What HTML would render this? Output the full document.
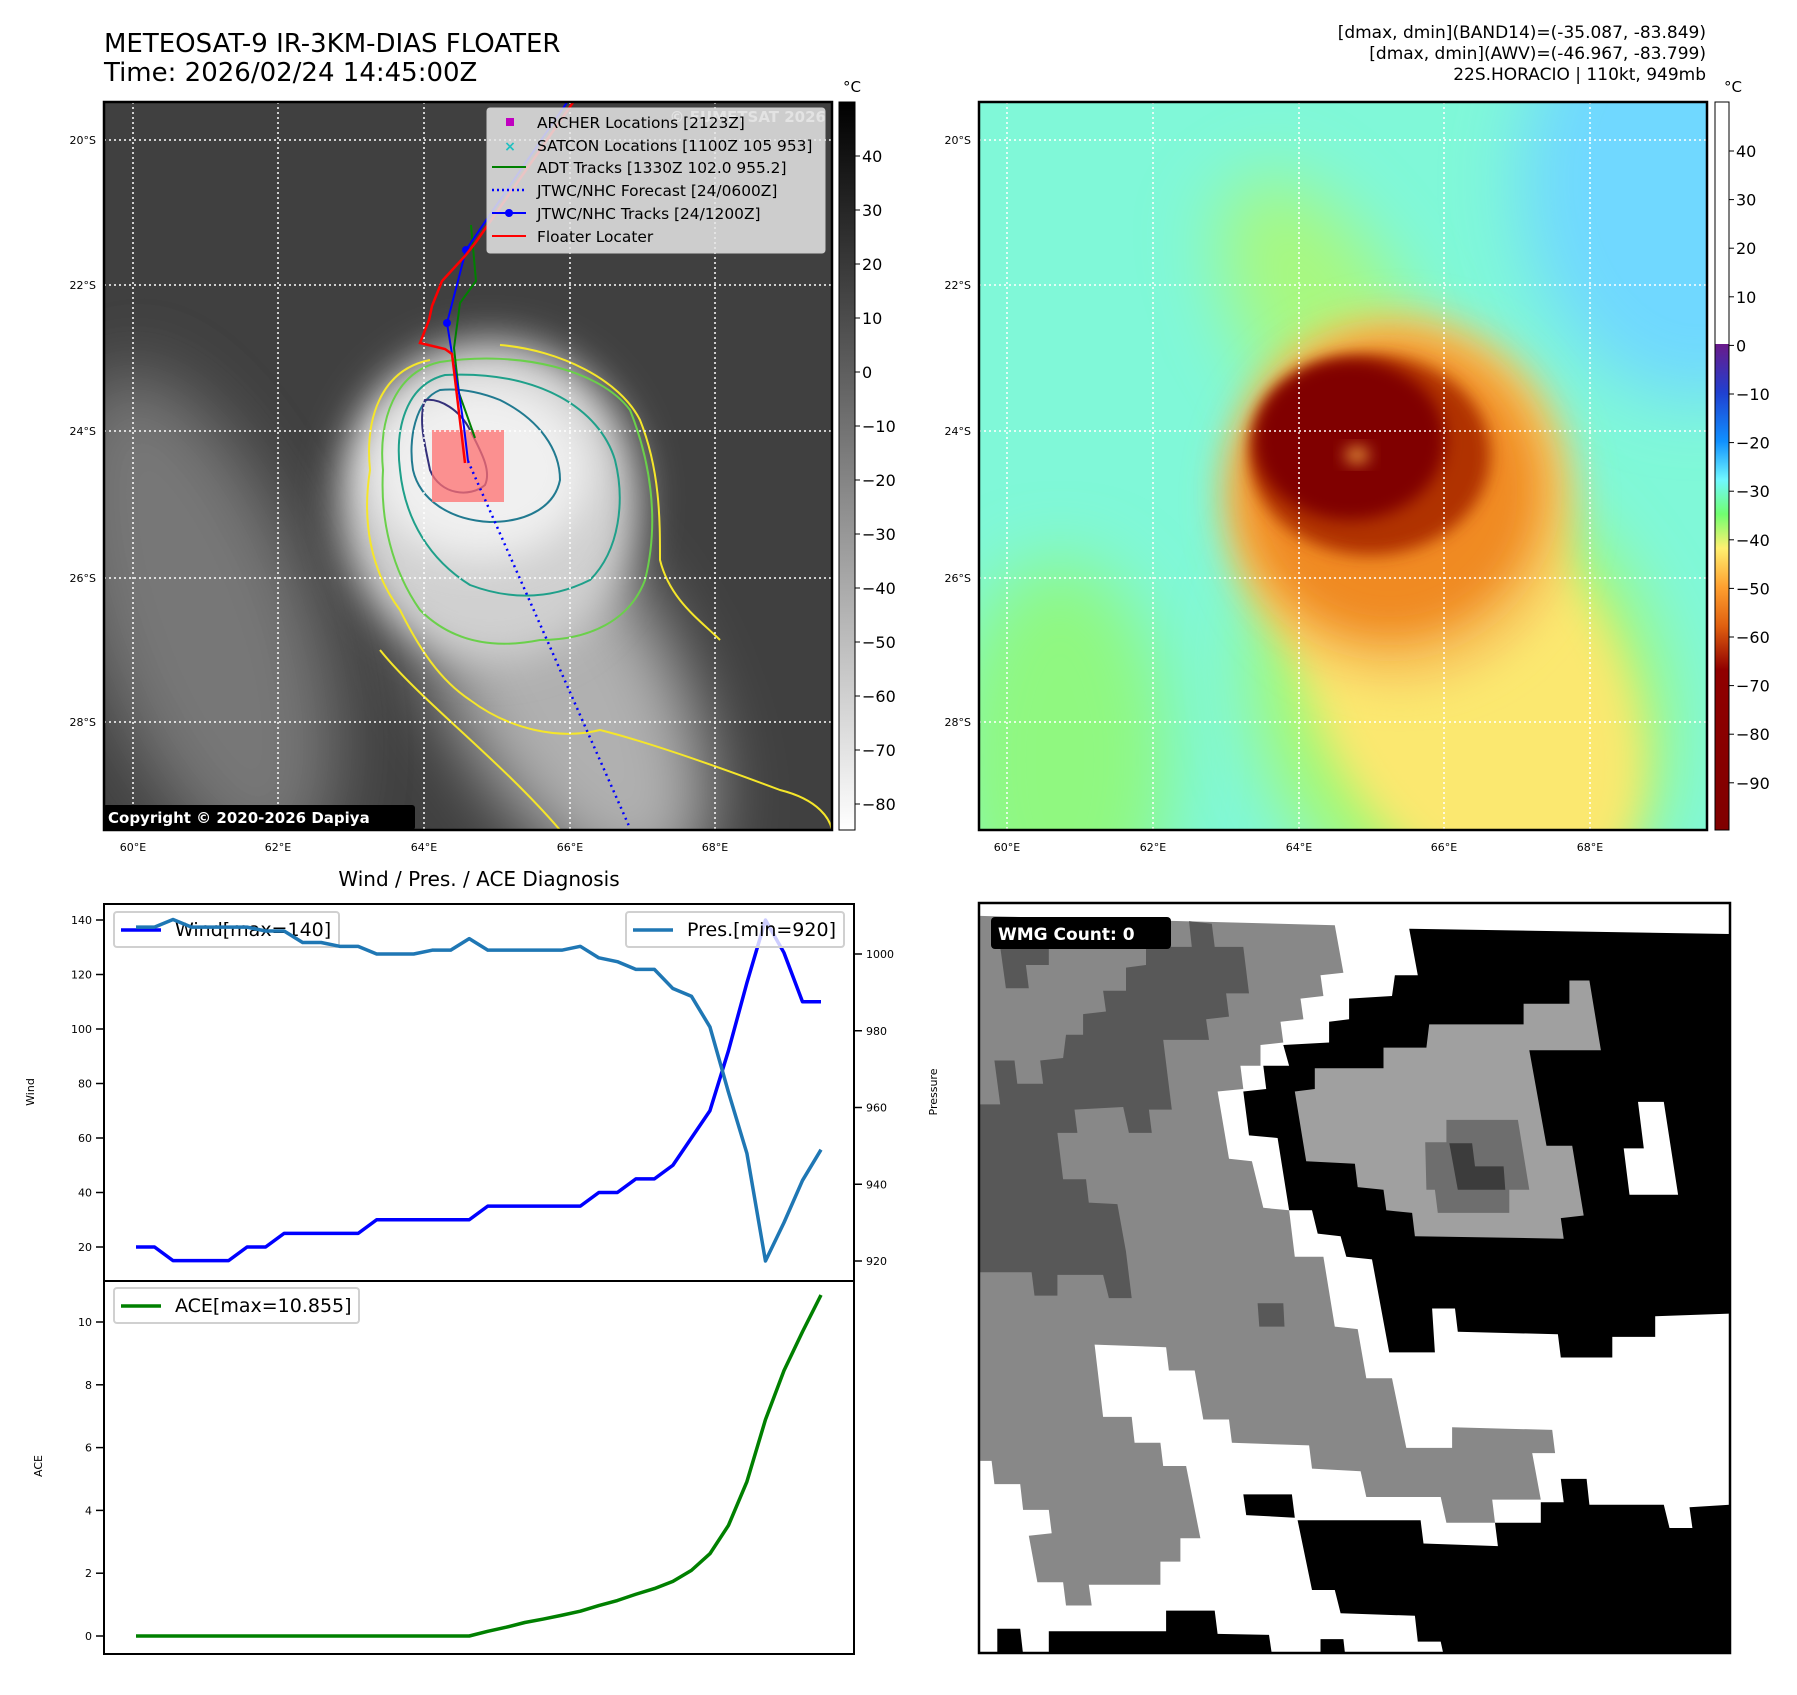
<!DOCTYPE html>
<html><head><meta charset="utf-8">
<style>
html,body{margin:0;padding:0;background:#fff;}
svg text{font-family:"DejaVu Sans","Liberation Sans",sans-serif;}
</style></head>
<body>
<svg id="root" xmlns="http://www.w3.org/2000/svg" width="1797" height="1690" viewBox="0 0 1797 1690">
<defs>
  <filter id="blur20" x="-50%" y="-50%" width="200%" height="200%"><feGaussianBlur stdDeviation="20"/></filter>
  <filter id="blur8" x="-50%" y="-50%" width="200%" height="200%"><feGaussianBlur stdDeviation="8"/></filter>
  <filter id="blur35" x="-50%" y="-50%" width="200%" height="200%"><feGaussianBlur stdDeviation="35"/></filter>
  <clipPath id="clipL"><rect x="104" y="102" width="728" height="728"/></clipPath>
  <clipPath id="clipR"><rect x="979" y="102" width="728" height="728"/></clipPath>
  <clipPath id="clipW"><rect x="979" y="903" width="751" height="750"/></clipPath>
  <linearGradient id="cbGray" x1="0" y1="0" x2="0" y2="1"><stop offset="0" stop-color="#000"/><stop offset="1" stop-color="#fff"/></linearGradient>
  <linearGradient id="cbColor" x1="0" y1="0" x2="0" y2="1">
    <stop offset="0" stop-color="#6a1a8a"/><stop offset="0.1" stop-color="#2040d0"/><stop offset="0.2" stop-color="#1090ff"/>
    <stop offset="0.28" stop-color="#70f8ff"/><stop offset="0.35" stop-color="#70ff70"/><stop offset="0.42" stop-color="#fff070"/>
    <stop offset="0.5" stop-color="#ffa030"/><stop offset="0.58" stop-color="#e06010"/><stop offset="0.67" stop-color="#900000"/><stop offset="1" stop-color="#800000"/>
  </linearGradient>
</defs>

<!-- Titles -->
<text x="104" y="52" font-size="26">METEOSAT-9 IR-3KM-DIAS FLOATER</text>
<text x="104" y="81" font-size="26">Time: 2026/02/24 14:45:00Z</text>
<g font-size="17" text-anchor="end">
  <text x="1706" y="38">[dmax, dmin](BAND14)=(-35.087, -83.849)</text>
  <text x="1706" y="59">[dmax, dmin](AWV)=(-46.967, -83.799)</text>
  <text x="1706" y="80">22S.HORACIO | 110kt, 949mb</text>
</g>

<!-- Left IR map -->
<g clip-path="url(#clipL)">
  <rect x="104" y="102" width="728" height="728" fill="#404040"/>
  <ellipse cx="200" cy="620" rx="110" ry="260" fill="#777" filter="url(#blur35)" transform="rotate(-20 200 620)"/>
  <ellipse cx="560" cy="680" rx="110" ry="230" fill="#b0b0b0" filter="url(#blur35)" transform="rotate(-30 560 680)"/>
  <ellipse cx="490" cy="500" rx="150" ry="160" fill="#d0d0d0" filter="url(#blur20)"/>
  <ellipse cx="480" cy="470" rx="110" ry="90" fill="#f0f0f0" filter="url(#blur20)"/>
  <!-- contours -->
  <path fill="none" stroke="#f5e62a" stroke-width="2" d="M430,360 C380,370 365,420 370,470 C362,520 370,570 400,610 C420,650 440,680 470,700 C510,730 560,740 600,730 C640,740 700,760 780,790 C820,800 830,820 832,830 M500,345 C560,350 620,380 640,420 C660,470 660,520 660,560 C670,600 700,620 720,640 M380,650 C420,700 500,760 560,830"/>
  <path fill="none" stroke="#6ad04a" stroke-width="2" d="M440,362 C395,372 378,420 383,470 C380,520 392,570 420,610 C450,640 490,650 540,640 C590,640 630,620 645,580 C660,520 650,460 630,410 C600,370 520,350 440,362 Z"/>
  <path fill="none" stroke="#1fa08a" stroke-width="2" d="M445,375 C405,385 395,430 400,470 C405,520 430,560 470,585 C510,600 550,600 590,580 C620,550 625,500 615,460 C600,410 540,370 445,375 Z"/>
  <path fill="none" stroke="#217a90" stroke-width="2" d="M440,390 C415,400 408,440 413,470 C420,500 450,520 490,522 C530,522 555,505 560,480 C560,450 540,420 500,400 C480,392 460,388 440,390 Z"/>
  <path fill="none" stroke="#34307a" stroke-width="2" d="M425,400 C418,420 425,445 430,470 C440,495 470,498 485,485 C492,470 480,450 470,430 C460,410 440,398 425,400 Z"/>
  <rect x="432" y="430" width="72" height="72" fill="#ff7070" fill-opacity="0.75"/>
  <g stroke="#fff" stroke-width="1.5" stroke-dasharray="2,3">
    <line x1="133" y1="102" x2="133" y2="830"/><line x1="278" y1="102" x2="278" y2="830"/><line x1="424" y1="102" x2="424" y2="830"/><line x1="570" y1="102" x2="570" y2="830"/><line x1="715" y1="102" x2="715" y2="830"/>
    <line x1="104" y1="140" x2="832" y2="140"/><line x1="104" y1="285" x2="832" y2="285"/><line x1="104" y1="431" x2="832" y2="431"/><line x1="104" y1="578" x2="832" y2="578"/><line x1="104" y1="722" x2="832" y2="722"/>
  </g>
  <polyline fill="none" stroke="#0000ff" stroke-width="2.5" stroke-dasharray="2,4" points="468,461 629,826"/>
  <polyline fill="none" stroke="#008000" stroke-width="2" points="471,225 476,281 460,303 454,348 459,393 475,438"/>
  <polyline fill="none" stroke="#0000ff" stroke-width="2" points="568,101 487,219 466,250 447,323 453,360 459,393 464,427 468,461"/>
  <circle cx="466" cy="250" r="4" fill="#0000ff"/>
  <circle cx="447" cy="323" r="4" fill="#0000ff"/>
  <polyline fill="none" stroke="#ff0000" stroke-width="2.5" points="574,101 476,242 465,256 442,281 432,306 429,320 420,343 445,349 452,354 465,463"/>
</g>
<rect x="104" y="102" width="728" height="728" fill="none" stroke="#000" stroke-width="2.5"/>
<g>
  <rect x="103" y="805" width="312" height="25" rx="3" fill="#000"/>
  <text x="108" y="823" font-size="15" font-weight="bold" fill="#fff">Copyright © 2020-2026 Dapiya</text>
</g>
<text x="826" y="122" font-size="15" font-weight="bold" fill="#ccc" text-anchor="end">© EUMETSAT 2026</text>
<g>
  <rect x="487" y="108" width="338" height="145" rx="3" fill="#e6e6e6" fill-opacity="0.85" stroke="#ccc"/>
  <rect x="506" y="118" width="8" height="8" fill="#c000c0"/>
  <text x="510" y="151" font-size="14" fill="#20c0c0" text-anchor="middle" font-weight="bold">×</text>
  <line x1="492" y1="167" x2="526" y2="167" stroke="#008000" stroke-width="2"/>
  <line x1="492" y1="190" x2="526" y2="190" stroke="#0000ff" stroke-width="2.5" stroke-dasharray="2,3"/>
  <line x1="492" y1="213" x2="526" y2="213" stroke="#0000ff" stroke-width="2"/><circle cx="509" cy="213" r="4" fill="#0000ff"/>
  <line x1="492" y1="236" x2="526" y2="236" stroke="#ff0000" stroke-width="2"/>
  <g font-size="15.4" fill="#000">
    <text x="537" y="128">ARCHER Locations [2123Z]</text>
    <text x="537" y="151">SATCON Locations [1100Z 105 953]</text>
    <text x="537" y="173">ADT Tracks [1330Z 102.0 955.2]</text>
    <text x="537" y="196">JTWC/NHC Forecast [24/0600Z]</text>
    <text x="537" y="219">JTWC/NHC Tracks [24/1200Z]</text>
    <text x="537" y="242">Floater Locater</text>
  </g>
</g>
<g font-size="11" text-anchor="end">
  <text x="96" y="144">20°S</text><text x="96" y="289">22°S</text><text x="96" y="435">24°S</text><text x="96" y="582">26°S</text><text x="96" y="726">28°S</text>
</g>
<g font-size="11" text-anchor="middle">
  <text x="133" y="851">60°E</text><text x="278" y="851">62°E</text><text x="424" y="851">64°E</text><text x="570" y="851">66°E</text><text x="715" y="851">68°E</text>
</g>
<g>
  <rect x="839" y="102" width="16" height="728" fill="url(#cbGray)" stroke="#000" stroke-width="1"/>
  <text x="852" y="92" font-size="15" text-anchor="middle">°C</text>
  <g id="cbLticks" font-size="16"></g>
</g>

<!-- Right AWV map -->
<g clip-path="url(#clipR)">
  <rect x="979" y="102" width="728" height="728" fill="#80f8d8"/>
  <ellipse cx="1700" cy="180" rx="180" ry="220" fill="#70d8ff" filter="url(#blur35)"/>
  <ellipse cx="1060" cy="760" rx="110" ry="200" fill="#90f880" filter="url(#blur35)"/>
  <ellipse cx="1460" cy="700" rx="200" ry="240" fill="#a8f870" filter="url(#blur35)" transform="rotate(-25 1460 700)"/>
  <ellipse cx="1330" cy="330" rx="80" ry="170" fill="#a8f880" filter="url(#blur35)" transform="rotate(-30 1330 330)"/>
  <ellipse cx="1470" cy="690" rx="150" ry="230" fill="#fbe870" filter="url(#blur20)" transform="rotate(-30 1470 690)"/>
  <ellipse cx="1400" cy="500" rx="175" ry="185" fill="#f8c860" filter="url(#blur20)"/>
  <ellipse cx="1390" cy="490" rx="150" ry="150" fill="#f08a20" filter="url(#blur20)"/>
  <ellipse cx="1370" cy="455" rx="120" ry="100" fill="#b03000" filter="url(#blur8)"/>
  <ellipse cx="1350" cy="440" rx="95" ry="80" fill="#800000" filter="url(#blur8)"/>
  <ellipse cx="1357" cy="455" rx="12" ry="8" fill="#f0a040" filter="url(#blur8)"/>
  <g stroke="#fff" stroke-width="1.5" stroke-dasharray="2,3">
    <line x1="1007" y1="102" x2="1007" y2="830"/><line x1="1153" y1="102" x2="1153" y2="830"/><line x1="1299" y1="102" x2="1299" y2="830"/><line x1="1444" y1="102" x2="1444" y2="830"/><line x1="1590" y1="102" x2="1590" y2="830"/>
    <line x1="979" y1="140" x2="1707" y2="140"/><line x1="979" y1="285" x2="1707" y2="285"/><line x1="979" y1="431" x2="1707" y2="431"/><line x1="979" y1="578" x2="1707" y2="578"/><line x1="979" y1="722" x2="1707" y2="722"/>
  </g>
</g>
<rect x="979" y="102" width="728" height="728" fill="none" stroke="#000" stroke-width="2.5"/>
<g font-size="11" text-anchor="end">
  <text x="971" y="144">20°S</text><text x="971" y="289">22°S</text><text x="971" y="435">24°S</text><text x="971" y="582">26°S</text><text x="971" y="726">28°S</text>
</g>
<g font-size="11" text-anchor="middle">
  <text x="1007" y="851">60°E</text><text x="1153" y="851">62°E</text><text x="1299" y="851">64°E</text><text x="1444" y="851">66°E</text><text x="1590" y="851">68°E</text>
</g>
<g>
  <rect x="1715" y="102" width="14" height="242" fill="#fff"/>
  <rect x="1715" y="344" width="14" height="486" fill="url(#cbColor)"/>
  <rect x="1715" y="102" width="14" height="728" fill="none" stroke="#000" stroke-width="1"/>
  <text x="1733" y="92" font-size="15" text-anchor="middle">°C</text>
  <g id="cbRticks" font-size="16"></g>
</g>

<!-- Bottom chart -->
<text x="479" y="886" font-size="20" text-anchor="middle">Wind / Pres. / ACE Diagnosis</text>
<g id="diag"></g>
<rect x="104" y="904" width="750" height="377" fill="none" stroke="#000" stroke-width="2"/>
<rect x="104" y="1281" width="750" height="373" fill="none" stroke="#000" stroke-width="2"/>
<text transform="translate(34,1092) rotate(-90)" font-size="11" text-anchor="middle">Wind</text>
<text transform="translate(937,1092) rotate(-90)" font-size="11" text-anchor="middle">Pressure</text>
<text transform="translate(42,1466) rotate(-90)" font-size="11" text-anchor="middle">ACE</text>

<!-- WMG panel -->
<g clip-path="url(#clipW)">
  <rect x="979" y="903" width="751" height="750" fill="#fff"/>
  <g id="wmg"></g>
</g>
<rect x="979" y="903" width="751" height="750" fill="none" stroke="#000" stroke-width="2.5"/>
<g>
  <rect x="991" y="917" width="180" height="32" rx="4" fill="#000"/>
  <text x="998" y="940" font-size="17" font-weight="bold" fill="#fff">WMG Count: 0</text>
</g>
</svg>
<script>
const NS="http://www.w3.org/2000/svg";
// ---- chart data ----
const windSeries=[20,20,15,15,15,15,20,20,25,25,25,25,25,30,30,30,30,30,30,35,35,35,35,35,35,40,40,45,45,50,60,70,92,117,140,128,110,110];
const presValues=[1007,1007,1009,1007,1007,1007,1007,1006,1006,1003,1003,1002,1002,1000,1000,1000,1001,1001,1004,1001,1001,1001,1001,1001,1002,999,998,996,996,991,989,981,964,948,920,930,941,949];
const aceValues=[0,0,0,0,0,0,0,0,0,0,0,0,0,0,0,0,0,0,0,0.15,0.28,0.43,0.54,0.66,0.79,0.97,1.13,1.33,1.51,1.74,2.09,2.62,3.52,4.92,6.89,8.45,9.69,10.86];
const windTicks=[20,40,60,80,100,120,140];
const presTicks=[920,940,960,980,1000];
const aceTicks=[0,2,4,6,8,10];
const cbLeftTicks=[40,30,20,10,0,-10,-20,-30,-40,-50,-60,-70,-80];
const cbRightTicks=[40,30,20,10,0,-10,-20,-30,-40,-50,-60,-70,-80,-90];

const N=presValues.length;
const xScale=i=>136+(i*(821-136)/(N-1));
const yWind=v=>1247-(v-20)*2.725;
const yPres=p=>1261-(p-920)*3.8375;
const yAce=a=>1636-a*31.4;
const cbL=v=>156+(40-v)*5.4;
const cbR=v=>151+(40-v)*4.86;

const diag=document.getElementById('diag');
function mk(tag,attrs,parent){const e=document.createElementNS(NS,tag);for(const k in attrs)e.setAttribute(k,attrs[k]);parent.appendChild(e);return e;}

windTicks.forEach(v=>{const y=yWind(v);
  const t=mk('line',{x1:96,x2:104,y1:y,y2:y,stroke:'#000','stroke-width':1.5},diag);
  
  
  const l=mk('text',{x:92,y:y+4,'font-size':11,'text-anchor':'end'},diag);l.textContent=v;
  
  
});
presTicks.forEach(v=>{const y=yPres(v);
  const t=mk('line',{x1:854,x2:862,y1:y,y2:y,stroke:'#000','stroke-width':1.5},diag);
  
  
  const l=mk('text',{x:866,y:y+4,'font-size':11},diag);l.textContent=v;
  
  
});
aceTicks.forEach(v=>{const y=yAce(v);
  const t=mk('line',{x1:96,x2:104,y1:y,y2:y,stroke:'#000','stroke-width':1.5},diag);
  
  
  const l=mk('text',{x:92,y:y+4,'font-size':11,'text-anchor':'end'},diag);l.textContent=v;
  
  
});
function legend(name,x,y,w,color,label){
  const g=mk('g',{},diag);
  
  
  mk('rect',{x:x,y:y,width:w,height:35,rx:3,fill:'#fff','fill-opacity':0.8,stroke:'#d0d0d0','stroke-width':2},g);
  mk('line',{x1:x+7,x2:x+47,y1:y+18,y2:y+18,stroke:color,'stroke-width':3.5},g);
  const t=mk('text',{x:x+61,y:y+24,'font-size':19},g);t.textContent=label;
}
const wl=mk('polyline',{fill:'none',stroke:'#0000ff','stroke-width':3.5,'stroke-linejoin':'round',points:windSeries.map((v,i)=>xScale(i)+','+yWind(v)).join(' ')},diag);


legend('wind-legend',114,912,225,'#0000ff','Wind[max=140]');
const pl=mk('polyline',{fill:'none',stroke:'#1f77b4','stroke-width':3.5,'stroke-linejoin':'round',points:presValues.map((v,i)=>xScale(i)+','+yPres(v)).join(' ')},diag);


legend('pressure-legend',626,912,218,'#1f77b4','Pres.[min=920]');
const al=mk('polyline',{fill:'none',stroke:'#008000','stroke-width':3.5,'stroke-linejoin':'round',points:aceValues.map((v,i)=>xScale(i)+','+yAce(v)).join(' ')},diag);


legend('ace-legend',114,1288,245,'#008000','ACE[max=10.855]');

const gl=document.getElementById('cbLticks');
cbLeftTicks.forEach(v=>{const y=cbL(v);
  mk('line',{x1:855,x2:860,y1:y,y2:y,stroke:'#000'},gl);
  const t=mk('text',{x:862,y:y+6},gl);t.textContent=(v<0?'\u2212'+(-v):v);
  
  
});
const gr=document.getElementById('cbRticks');
cbRightTicks.forEach(v=>{const y=cbR(v);
  mk('line',{x1:1729,x2:1734,y1:y,y2:y,stroke:'#000'},gr);
  const t=mk('text',{x:1736,y:y+6},gr);t.textContent=(v<0?'\u2212'+(-v):v);
  
  
});

const wmgShapes=[
 ['#888888',[[140,70],[760,88],[775,180],[735,185],[740,225],[700,230],[705,270],[665,275],[670,315],[630,320],[630,360],[595,360],[600,405],[555,410],[575,540],[615,545],[635,635],[680,640],[690,730],[740,730],[760,865],[800,870],[815,965],[860,965],[885,1100],[965,1100],[965,1060],[1140,1065],[1145,1110],[1105,1110],[1120,1200],[1035,1200],[1040,1245],[955,1245],[945,1195],[815,1195],[805,1145],[720,1140],[715,1095],[580,1090],[575,1045],[530,1045],[515,950],[470,950],[465,905],[340,900],[355,1040],[405,1040],[410,1090],[455,1090],[460,1135],[500,1135],[525,1275],[490,1275],[490,1320],[455,1320],[455,1365],[330,1365],[335,1405],[290,1405],[285,1360],[240,1360],[225,1270],[265,1265],[260,1220],[215,1220],[210,1170],[165,1170],[160,1125],[140,1125]]],
 ['#585858',[[140,435],[140,760],[230,760],[235,805],[275,805],[275,765],[355,765],[365,810],[405,810],[395,720],[380,628],[330,625],[325,580],[285,580],[275,490],[310,490],[305,445],[390,440],[400,490],[440,490],[435,445],[475,445],[460,310],[540,310],[535,270],[575,265],[570,220],[610,220],[600,130],[550,130],[545,85],[505,80],[510,130],[430,130],[430,165],[395,170],[395,215],[355,215],[360,255],[320,260],[320,300],[290,300],[285,345],[245,350],[250,395],[205,395],[200,350],[165,350],[175,435]]],
 ['#585858',[[175,130],[260,130],[260,165],[220,165],[225,210],[185,210]]],
 ['#585858',[[625,820],[670,820],[672,865],[628,865]]],
 ['#000000',[[890,95],[1450,105],[1450,840],[1320,845],[1320,885],[1245,885],[1245,925],[1155,925],[1150,880],[975,875],[970,830],[930,830],[935,915],[855,915],[825,735],[780,730],[770,690],[730,685],[720,640],[680,640],[660,500],[610,495],[600,410],[640,405],[635,360],[680,360],[670,320],[750,315],[750,275],[785,270],[785,230],[860,225],[865,185],[905,185]]],
 ['#a0a0a0',[[1170,195],[1205,195],[1225,330],[1100,330],[1130,515],[1175,515],[1195,650],[1155,655],[1160,695],[900,690],[895,645],[850,640],[845,600],[800,595],[795,550],[710,545],[690,410],[725,405],[725,365],[845,365],[845,325],[920,325],[925,280],[1090,280],[1090,240],[1170,240]]],
 ['#6e6e6e',[[955,465],[1080,465],[1100,600],[1065,600],[1065,645],[940,645],[935,600],[920,600],[918,508],[955,508]]],
 ['#3c3c3c',[[960,510],[1000,510],[1005,555],[1055,555],[1058,600],[975,600]]],
 ['#ffffff',[[1290,430],[1335,430],[1360,610],[1275,610],[1265,520],[1300,520]]],
 ['#000000',[[695,1240],[910,1240],[915,1285],[1045,1290],[1040,1245],[1120,1245],[1120,1205],[1160,1205],[1155,1160],[1200,1160],[1205,1210],[1335,1210],[1345,1255],[1385,1255],[1380,1215],[1450,1210],[1450,1500],[1125,1500],[1115,1440],[1070,1440],[1065,1385],[1235,1390],[1245,1440],[1300,1440],[1300,1500],[950,1500],[945,1475],[905,1475],[900,1425],[770,1420],[760,1375],[720,1375]]],
 ['#000000',[[600,1190],[685,1190],[690,1235],[605,1230]]],
 ['#000000',[[170,1450],[210,1450],[215,1500],[170,1500]]],
 ['#000000',[[260,1455],[465,1455],[465,1415],[550,1415],[555,1460],[645,1462],[650,1500],[260,1500]]],
 ['#000000',[[735,1470],[775,1470],[778,1500],[735,1500]]]
];
const wg=document.getElementById('wmg');
wmgShapes.forEach(s=>{
  const pts=s[1].map(p=>((p[0]-138)/1.748+979).toFixed(1)+','+((p[1]-45)/1.936+903).toFixed(1)).join(' ');
  const e=mk('polygon',{points:pts,fill:s[0]},wg);
  
  
});
</script>
</body></html>
